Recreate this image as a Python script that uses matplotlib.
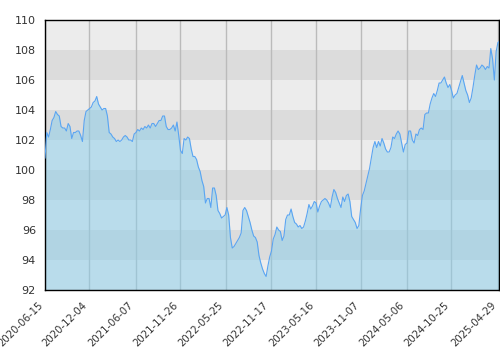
import matplotlib
matplotlib.use("Agg")
import matplotlib.pyplot as plt
import matplotlib.transforms as mtransforms
import numpy as np
import pandas as pd

# weekly closes (every 5th trading day), starting 2020-06-15
start = "2020-06-15"
step = 5
price = [
    100.8, 102.5, 102.2, 102.7, 103.3, 103.5, 103.9, 103.7, 103.6, 102.9,
    102.8, 102.8, 102.6, 103.1, 102.9, 102.1, 102.5, 102.5, 102.6, 102.6,
    102.3, 101.9, 103.3, 103.9, 104.0, 104.1, 104.2, 104.5, 104.6, 104.9,
    104.4, 104.2, 104.0, 104.1, 104.1, 103.6, 102.5, 102.4, 102.2, 102.1,
    101.9, 102.0, 101.9, 102.0, 102.2, 102.3, 102.2, 102.0, 102.0, 101.9,
    102.4, 102.5, 102.7, 102.6, 102.8, 102.7, 102.9, 102.8, 103.0, 102.8,
    103.1, 103.1, 102.9, 103.1, 103.3, 103.3, 103.6, 103.6, 102.9, 102.7,
    102.7, 102.8, 103.0, 102.6, 103.2, 102.3, 101.3, 101.1, 102.1, 102.0,
    102.2, 102.1, 101.4, 100.9, 100.9, 100.7, 100.2, 99.9, 99.3, 98.9,
    97.8, 98.1, 98.1, 97.5, 98.8, 98.8, 98.3, 97.3, 97.1, 96.8,
    96.9, 97.0, 97.5, 97.0, 95.5, 94.8, 94.9, 95.1, 95.3, 95.5,
    95.8, 97.3, 97.5, 97.3, 96.9, 96.5, 96.0, 95.6, 95.5, 95.2,
    94.3, 93.8, 93.4, 93.1, 92.9, 93.6, 94.2, 94.6, 95.4, 95.7,
    96.2, 96.0, 95.9, 95.3, 95.6, 96.7, 97.0, 97.0, 97.4, 96.9,
    96.5, 96.4, 96.2, 96.3, 96.1, 96.2, 96.6, 97.1, 97.7, 97.4,
    97.6, 97.9, 97.8, 97.2, 97.6, 97.9, 98.0, 98.1, 98.0, 97.8,
    97.5, 98.2, 98.7, 98.5, 98.1, 97.8, 97.5, 98.2, 97.9, 98.3,
    98.4, 97.9, 96.9, 96.7, 96.5, 96.1, 96.3, 97.4, 98.3, 98.6,
    99.1, 99.6, 100.1, 100.8, 101.5, 101.9, 101.5, 101.9, 101.6, 102.1,
    101.8, 101.4, 101.2, 101.2, 101.5, 102.2, 102.1, 102.4, 102.6, 102.4,
    101.8, 101.2, 101.7, 101.8, 102.6, 102.6, 102.0, 101.8, 102.4, 102.3,
    102.7, 102.8, 102.7, 103.7, 103.8, 103.8, 104.4, 104.8, 105.1, 104.9,
    105.3, 105.8, 105.8, 106.0, 106.2, 105.8, 105.5, 105.7, 105.3, 104.8,
    105.0, 105.1, 105.5, 105.9, 106.3, 105.8, 105.3, 105.0, 104.5, 104.8,
    105.5, 106.3, 107.0, 106.7, 106.8, 107.0, 106.9, 106.7, 106.9, 106.8,
    108.1, 107.4, 106.0, 107.9, 108.5, 108.6,
]
tick_dates = [
    "2020-06-15", "2020-12-04", "2021-06-07", "2021-11-26", "2022-05-25",
    "2022-11-17", "2023-05-16", "2023-11-07", "2024-05-06", "2024-10-25",
    "2025-04-29",
]
y_ticks = [92, 94, 96, 98, 100, 102, 104, 106, 108, 110]

x = np.arange(len(price)) * step
tick_pos = [len(pd.bdate_range(start, d)) - 1 for d in tick_dates]

fig = plt.figure(figsize=(5, 3.5), dpi=100)
ax = fig.add_axes([0.09, 0.1714, 0.908, 0.7714])

# alternating horizontal bands
for i in range(len(y_ticks) - 1):
    ax.axhspan(y_ticks[i], y_ticks[i + 1], color="#ececec" if i % 2 == 0 else "#dcdcdc",
               lw=0, zorder=0)

ax.set_axisbelow(True)
ax.grid(axis="x", color="#bbbbbb", lw=1)
ax.grid(axis="y", visible=False)

ax.fill_between(x, price, y_ticks[0], color="skyblue", alpha=0.5, lw=0, zorder=2)
ax.plot(x, price, color="#5aa5f2", lw=0.8, zorder=3)

ax.set_ylim(y_ticks[0], y_ticks[-1])
ax.set_xlim(0, 1273)
ax.set_yticks(y_ticks)
ax.set_xticks(tick_pos)
ax.set_xticklabels(tick_dates, rotation=45, ha="right", va="center", rotation_mode="anchor")

ax.tick_params(length=0, labelsize=8, colors="#333333")
ax.tick_params(axis="y", pad=6.5)
ax.tick_params(axis="x", pad=10, labelsize=7.3)
for lab in ax.get_xticklabels():
    lab.set_transform(lab.get_transform() + mtransforms.ScaledTranslation(-0.04, 0, fig.dpi_scale_trans))

for s in ax.spines.values():
    s.set_color("black")
    s.set_linewidth(1)

fig.savefig("out.png", dpi=100)
